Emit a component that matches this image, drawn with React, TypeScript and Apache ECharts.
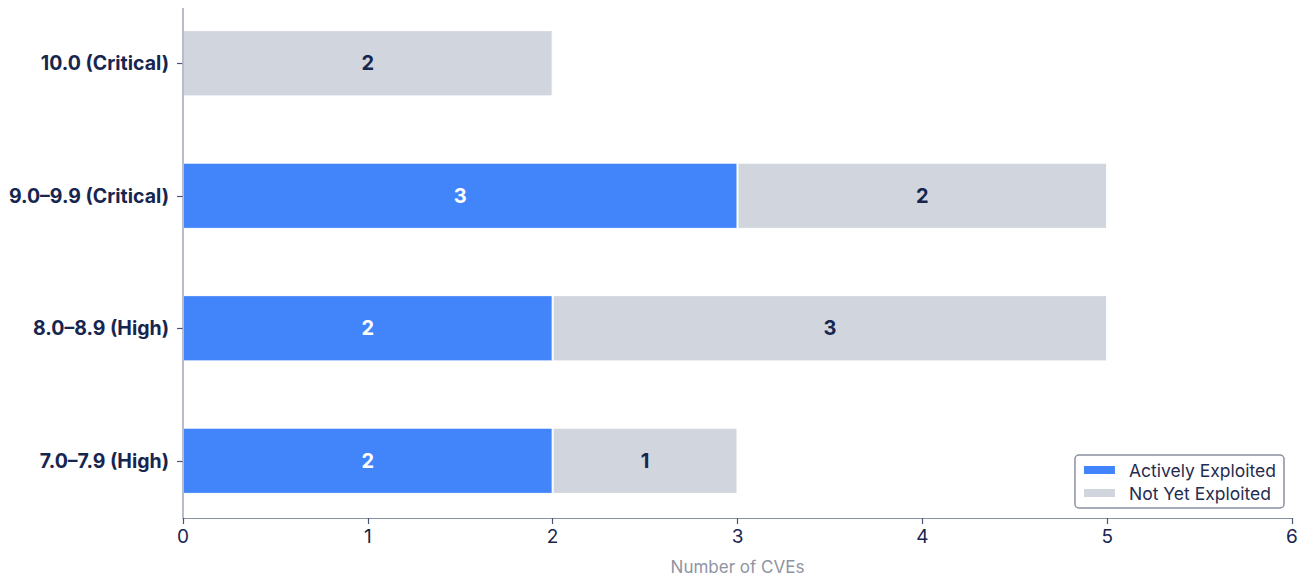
import React, { useEffect, useRef } from "react";
import * as echarts from "echarts";

const categories = ["7.0–7.9 (High)", "8.0–8.9 (High)", "9.0–9.9 (Critical)", "10.0 (Critical)"];
const activelyExploited = [2, 2, 3, 0];
const notYetExploited = [1, 3, 2, 2];
const xTicks = { min: 0, max: 6, interval: 1 };

const NAVY = "#16264f";
const AXIS = "#8b90a0";

export default function App() {
  const ref = useRef<HTMLDivElement>(null);
  useEffect(() => {
    if (!ref.current) return;
    const chart = echarts.init(ref.current, null, { renderer: "svg" });
    const labelFmt = (p: any) => (p.value ? String(p.value) : "");
    chart.setOption({
      animation: false,
      textStyle: { fontFamily: "Inter" },
      grid: { left: 183, right: 17, top: -3, bottom: 51, outerBoundsMode: "none", containLabel: false },
      legend: {
        orient: "vertical",
        right: 25,
        bottom: 70,
        borderColor: AXIS,
        borderWidth: 1.5,
        borderRadius: 4,
        padding: [6, 8, 6, 7],
        itemWidth: 33,
        itemHeight: 10,
        itemGap: 5,
        textStyle: { fontSize: 17.5, color: "#1f2d50", fontFamily: "Inter", padding: [0, 0, 0, 8] },
        data: [
          { name: "Actively Exploited", icon: "rect" },
          { name: "Not Yet Exploited", icon: "rect" },
        ],
      },
      xAxis: {
        type: "value",
        min: xTicks.min,
        max: xTicks.max,
        interval: xTicks.interval,
        offset: -9,
        splitLine: { show: false },
        axisLine: { show: true, lineStyle: { color: AXIS, width: 1.2 } },
        axisTick: { show: true, length: 6, lineStyle: { color: "#4a5575", width: 1.2 } },
        axisLabel: { color: NAVY, fontSize: 19, margin: 9, fontFamily: "Inter" },
        name: "Number of CVEs",
        nameLocation: "middle",
        nameGap: 40,
        nameTextStyle: { color: "#8f94a3", fontSize: 17, fontFamily: "Inter" },
      },
      yAxis: {
        type: "category",
        data: categories,
        axisLine: { show: false },
        axisTick: { show: true, alignWithLabel: true, length: 6, lineStyle: { color: "#4a5575", width: 1.2 } },
        axisLabel: { color: NAVY, fontSize: 19.5, fontWeight: "bold", margin: 14, fontFamily: "Inter" },
      },
      graphic: [
        {
          type: "line",
          shape: { x1: 183, y1: 8, x2: 183, y2: 518 },
          style: { stroke: AXIS, lineWidth: 1.2 },
          z: 10,
        },
      ],
      series: [
        {
          name: "Actively Exploited",
          type: "bar",
          stack: "total",
          barWidth: "50%",
          data: activelyExploited,
          itemStyle: { color: "#4285fb", borderColor: "#ffffff", borderWidth: 1 },
          label: {
            show: true,
            position: "inside",
            formatter: labelFmt,
            color: "#ffffff",
            fontSize: 20,
            fontWeight: "bold",
            fontFamily: "Inter",
          },
        },
        {
          name: "Not Yet Exploited",
          type: "bar",
          stack: "total",
          barWidth: "50%",
          data: notYetExploited,
          itemStyle: { color: "#d1d5dd", borderColor: "#ffffff", borderWidth: 1 },
          label: {
            show: true,
            position: "inside",
            formatter: labelFmt,
            color: NAVY,
            fontSize: 20,
            fontWeight: "bold",
            fontFamily: "Inter",
          },
        },
      ],
    });
    return () => chart.dispose();
  }, []);
  return (
    <div
      ref={ref}
      style={{ position: "fixed", left: 0, top: 0, width: 1309, height: 578, background: "#fff" }}
    />
  );
}
